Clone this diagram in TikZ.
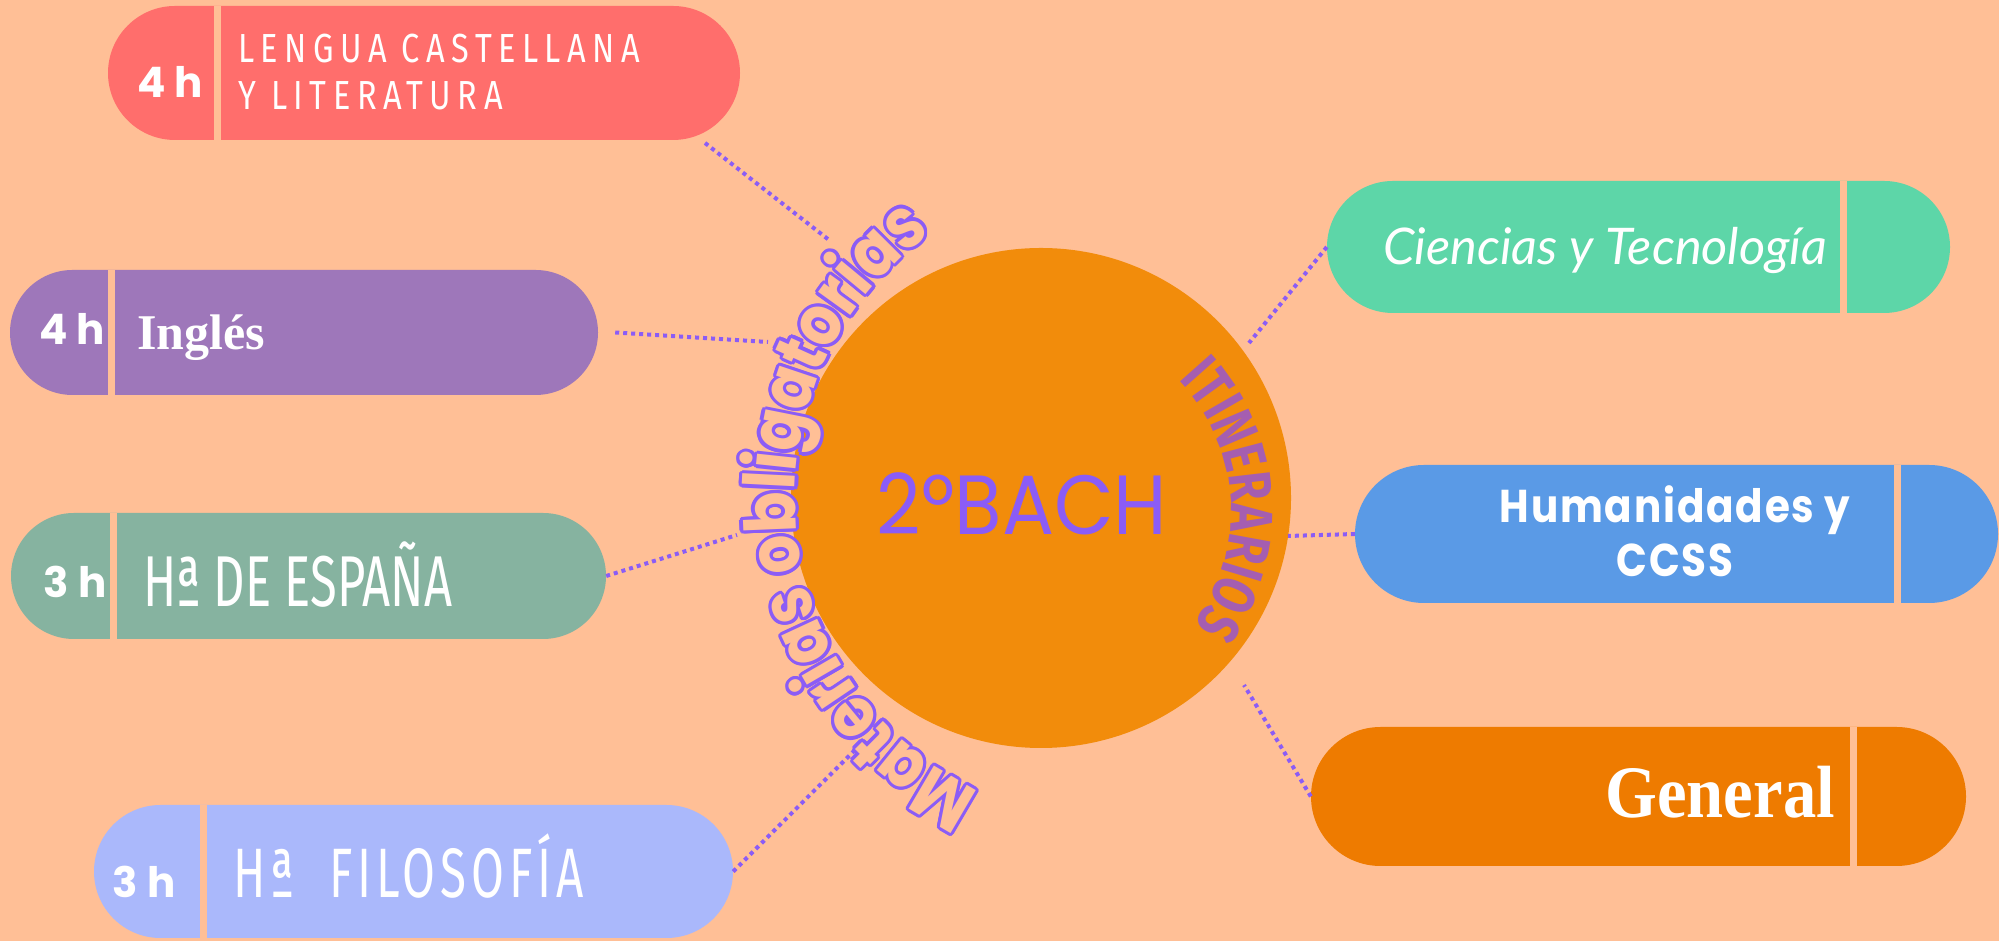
\documentclass[tikz,border=0pt]{standalone}
\usepackage{fontspec}
\usetikzlibrary{shapes.misc,decorations.text}
\setmainfont{Fira Sans}
\newfontfamily\firaN{Fira Sans}[FakeStretch=0.8,LetterSpace=16]
\newfontfamily\firaC{Fira Sans}[FakeStretch=0.68]
\newfontfamily\firaF{Fira Sans}[FakeStretch=0.68,LetterSpace=7]
\newfontfamily\firaI{Fira Sans}[FakeStretch=0.78]
\newfontfamily\pop{Poppins}
\newfontfamily\popN{Poppins}[FakeStretch=0.92]
\newfontfamily\popM{Poppins}[FakeStretch=0.86]
\newfontfamily\popS{Poppins}[FakeStretch=0.88,LetterSpace=4]
\newfontfamily\serif{Liberation Serif}
\newfontfamily\serifN{Liberation Serif}[FakeStretch=0.9]
\newfontfamily\latoI{Lato}
\definecolor{bg}{HTML}{FFBF96}
\definecolor{circ}{HTML}{F28C0B}
\definecolor{lengua}{HTML}{FF6E6C}
\definecolor{ingles}{HTML}{9E77BA}
\definecolor{espana}{HTML}{86B3A0}
\definecolor{filo}{HTML}{AAB8FB}
\definecolor{cien}{HTML}{5DD6A8}
\definecolor{huma}{HTML}{5A9AE6}
\definecolor{gen}{HTML}{EE7B00}
\definecolor{purp}{HTML}{8B5CF6}
\definecolor{itin}{HTML}{A55EB0}
\newcommand\matfont{\popM\bfseries\fontsize{71}{73}\selectfont}
\newcommand\itinfont{\firaI\bfseries\fontsize{60}{62}\selectfont}
\begin{document}
\begin{tikzpicture}[x=1pt,y=1pt,
  pill/.style={rounded rectangle, inner sep=0pt, draw=none},
  divider/.style={draw=bg, line width=7pt},
  hrs/.style={text=white, font=\pop\bfseries\fontsize{42}{44}\selectfont, inner sep=0pt, anchor=base},
  lbl/.style={text=white, inner sep=0pt},
  conn/.style={draw=purp, line width=4pt, dash pattern=on 4pt off 4pt}]
\useasboundingbox (0,0) rectangle (1999,941);
\fill[bg] (0,0) rectangle (1999,941);

% circle
\node[circle, fill=circ, minimum size=500pt, inner sep=0pt] (c) at (1041,443) {};
\node[text=purp, font=\popN\fontsize{84}{86}\selectfont, inner sep=0pt, anchor=base] (bach) at (1022,406) {2ºBACH};

% pills
\node[pill, fill=lengua, minimum width=632pt, minimum height=134pt] (p1) at (424,868) {};
\node[pill, fill=ingles, minimum width=588pt, minimum height=125pt] (p2) at (304,608.5) {};
\node[pill, fill=espana, minimum width=595pt, minimum height=126pt] (p3) at (308.5,365) {};
\node[pill, fill=filo, minimum width=639pt, minimum height=133pt] (p4) at (413.5,69.5) {};
\node[pill, fill=cien, minimum width=623pt, minimum height=132pt] (p5) at (1638.5,694) {};
\node[pill, fill=huma, minimum width=643pt, minimum height=138pt] (p6) at (1676.5,407) {};
\node[pill, fill=gen, minimum width=655pt, minimum height=139pt] (p7) at (1638.5,144.5) {};

\draw[divider] (217,801) -- (217,935);
\draw[divider] (111,546) -- (111,671);
\draw[divider] (113.5,302) -- (113.5,428);
\draw[divider] (203.5,3) -- (203.5,136);
\draw[divider] (1843,628) -- (1843,760);
\draw[divider] (1897,338) -- (1897,476);
\draw[divider] (1853,75) -- (1853,214);

% hours
\node[hrs] (h1) at (170,843) {4 h};
\node[hrs] (h2) at (72,596) {4 h};
\node[hrs] (h3) at (75,343) {3 h};
\node[hrs] (h4) at (144,43) {3 h};

% labels
\node[lbl, anchor=base west, font=\firaN\fontsize{40.6}{42}\selectfont] (t1a) at (238,878) {LENGUA CASTELLANA};
\node[lbl, anchor=base west, font=\firaN\fontsize{40.6}{42}\selectfont] (t1b) at (238,831) {Y LITERATURA};
\node[lbl, anchor=base west, font=\serif\bfseries\fontsize{50}{52}\selectfont] (t2) at (137,591) {Inglés};
\node[lbl, anchor=base west, font=\firaC\fontsize{72}{74}\selectfont] (t3) at (143,334) {Hª DE ESPAÑA};
\node[lbl, anchor=base west, font=\firaF\fontsize{70}{72}\selectfont] (t4) at (233,43) {Hª\ \ FILOSOFÍA};
\node[lbl, anchor=base west, font=\latoI\itshape\fontsize{50.5}{52}\selectfont] (t5) at (1383,676) {Ciencias y Tecnología};
\node[lbl, anchor=base, font=\popS\bfseries\fontsize{46}{48}\selectfont] (t6a) at (1675,418) {Humanidades y};
\node[lbl, anchor=base, font=\popS\bfseries\fontsize{46}{48}\selectfont] (t6b) at (1675,364) {CCSS};
\node[lbl, anchor=base east, font=\serifN\bfseries\fontsize{74}{76}\selectfont] (t7) at (1835,123) {General};

% curved texts
\foreach \a in {0,22.5,...,337.5}{
  \path[decorate, decoration={text along path, text align=center,
     text={|\matfont\color{purp}|Materias obligatorias}}]
     ([shift={(\a:3.2)}]1120,443) ++(255:325) arc[start angle=255, end angle=115, radius=325];
}
\path[decorate, decoration={text along path, text align=center,
   text={|\matfont\color{bg}|Materias obligatorias}}]
   (1120,443) ++(255:325) arc[start angle=255, end angle=115, radius=325];

\path[decorate, decoration={text along path, text align=center,
   text={|\itinfont\color{itin}|ITINERARIOS}}]
   (1041,430) ++(53:190) arc[start angle=53, end angle=-46, radius=190];

% connectors
\coordinate (e1) at (705,798);
\coordinate (c1) at (829,701);
\coordinate (c2) at (768,599);
\coordinate (c3) at (737,406);
\coordinate (c4) at (855,191);
\coordinate (c5) at (1249,598);
\coordinate (c6) at (1288,405);
\coordinate (c7) at (1244,256);
\draw[conn] (e1) -- (c1);
\draw[conn] ([xshift=17pt]p2.east) -- (c2);
\draw[conn] (p3.east) -- (c3);
\draw[conn] (p4.east) -- (c4);
\draw[conn] (p5.west) -- (c5);
\draw[conn] (p6.west) -- (c6);
\draw[conn] (p7.west) -- (c7);
\end{tikzpicture}
\end{document}
